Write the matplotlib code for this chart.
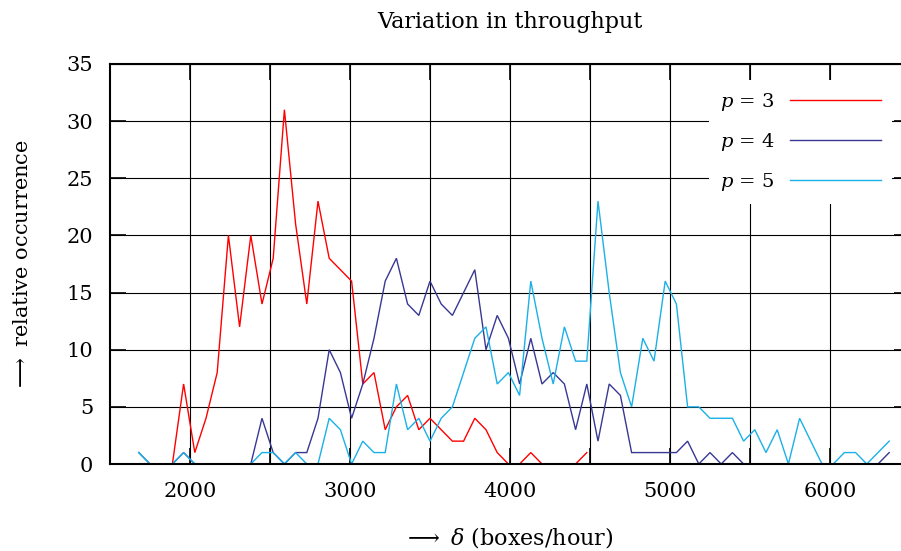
import numpy as np
import matplotlib
matplotlib.use('Agg')
import matplotlib.pyplot as plt

plt.rcParams['font.family'] = ['DejaVu Serif', 'DejaVu Sans']
plt.rcParams['mathtext.fontset'] = 'dejavuserif'

# throughput bins (boxes/hour)
delta = [1680, 1750, 1820, 1890, 1960, 2030, 2100, 2170, 2240, 2310,
         2380, 2450, 2520, 2590, 2660, 2730, 2800, 2870, 2940, 3010,
         3080, 3150, 3220, 3290, 3360, 3430, 3500, 3570, 3640, 3710,
         3780, 3850, 3920, 3990, 4060, 4130, 4200, 4270, 4340, 4410,
         4480, 4550, 4620, 4690, 4760, 4830, 4900, 4970, 5040, 5110,
         5180, 5250, 5320, 5390, 5460, 5530, 5600, 5670, 5740, 5810,
         5880, 5950, 6020, 6090, 6160, 6230, 6300, 6370]

n = None
occ_p3 = [n, n, n, 0, 7, 1, 4, 8, 20, 12,
          20, 14, 18, 31, 21, 14, 23, 18, 17, 16,
          7, 8, 3, 5, 6, 3, 4, 3, 2, 2,
          4, 3, 1, 0, 0, 1, 0, 0, 0, 0,
          1, n, n, n, n, n, n, n, n, n,
          n, n, n, n, n, n, n, n, n, n,
          n, n, n, n, n, n, n, n]
occ_p4 = [1, 0, 0, 0, 1, 0, 0, 0, 0, 0,
          0, 4, 1, 0, 1, 1, 4, 10, 8, 4,
          7, 11, 16, 18, 14, 13, 16, 14, 13, 15,
          17, 10, 13, 11, 7, 11, 7, 8, 7, 3,
          7, 2, 7, 6, 1, 1, 1, 1, 1, 2,
          0, 1, 0, 1, 0, 0, 0, 0, 0, 0,
          0, 0, 0, 0, 0, 0, 0, 1]
occ_p5 = [1, 0, 0, 0, 1, 0, 0, 0, 0, 0,
          0, 1, 1, 0, 1, 0, 0, 4, 3, 0,
          2, 1, 1, 7, 3, 4, 2, 4, 5, 8,
          11, 12, 7, 8, 6, 16, 11, 7, 12, 9,
          9, 23, 15, 8, 5, 11, 9, 16, 14, 5,
          5, 4, 4, 4, 2, 3, 1, 3, 0, 4,
          2, 0, 0, 1, 1, 0, 1, 2]

series = [(occ_p3, r'$p$ = 3', '#ff0000'),
          (occ_p4, r'$p$ = 4', '#383894'),
          (occ_p5, r'$p$ = 5', '#1ab0e8')]

xgrid = [2000, 2500, 3000, 3500, 4000, 4500, 5000, 5500, 6000]
xlabels = ['2000', '', '3000', '', '4000', '', '5000', '', '6000']
yticks = [0, 5, 10, 15, 20, 25, 30, 35]

W, H = 901, 551
fig = plt.figure(figsize=(W / 100, H / 100), dpi=100)
# plot frame runs a little past the right edge of the image
ax = fig.add_axes([110 / W, 87 / H, 800 / W, 400 / H])

for vals, lab, col in series:
    y = np.array([np.nan if v is None else v for v in vals], dtype=float)
    ax.plot(delta, y, color=col, lw=1.0, label=lab, solid_joinstyle='miter')

ax.set_xlim(1500, 6500)
ax.set_ylim(0, 35)
ax.set_xticks(xgrid, labels=xlabels)
ax.set_yticks(yticks)
ax.set_axisbelow(True)
ax.grid(True, color='black', lw=0.8)
ax.tick_params(which='both', direction='in', top=True, right=True,
               length=11.5, width=1.2, labelsize=15)
ax.tick_params(axis='x', pad=13)
ax.tick_params(axis='y', pad=12)
for s in ax.spines.values():
    s.set_linewidth(1.5)
    s.set_zorder(3)

leg = ax.legend(loc='upper left', bbox_to_anchor=(709 / W, 1 - 80 / H),
                bbox_transform=fig.transFigure, markerfirst=False,
                frameon=True, fancybox=False, framealpha=1,
                facecolor='white', edgecolor='none', fontsize=14,
                handlelength=4.7, handletextpad=0.8, labelspacing=0.93,
                borderpad=0.55, borderaxespad=0)

fig.text(510 / W, 1 - 28 / H, 'Variation in throughput', fontsize=16,
         ha='center', va='baseline')
fig.text(508 / W, 1 - 544 / H, r'$\longrightarrow\ \delta$ (boxes/hour)',
         fontsize=16, ha='center', va='baseline')
fig.text(23 / W, 1 - 265 / H, r'$\longrightarrow$ relative occurrence',
         fontsize=15, ha='center', va='center', rotation=90)

fig.savefig('out.png', dpi=100)
